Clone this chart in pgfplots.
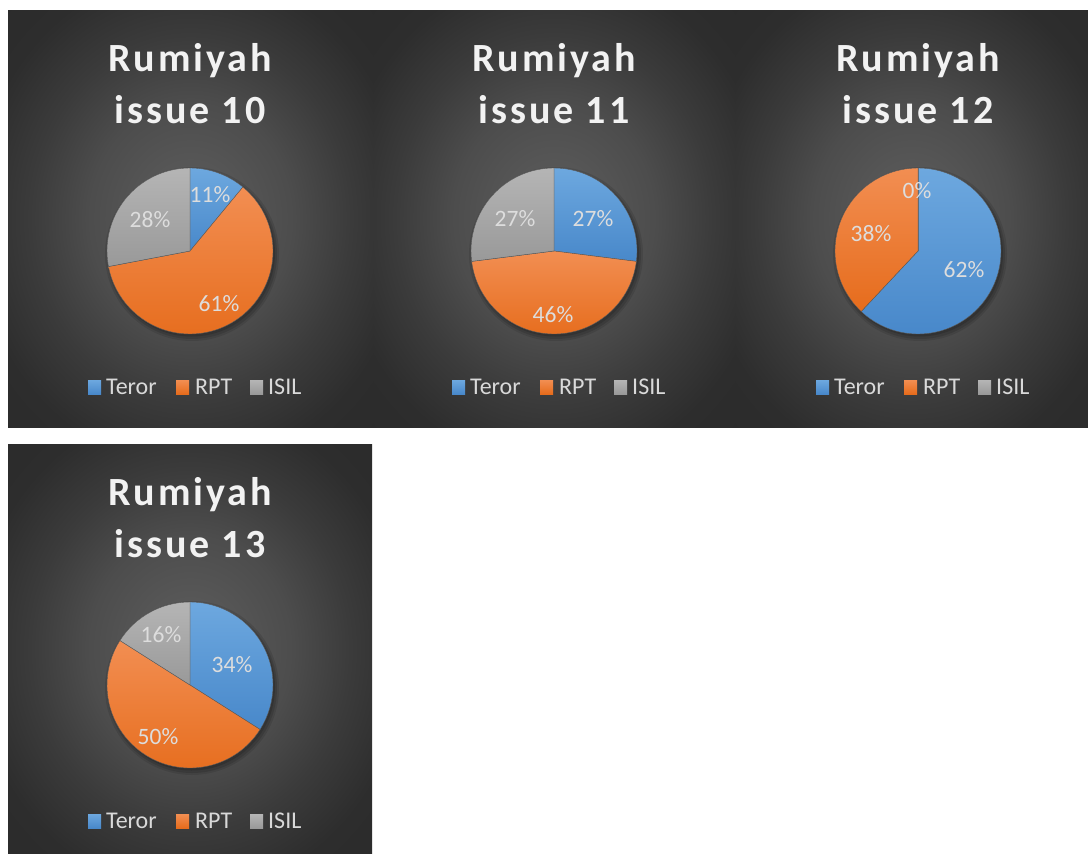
\documentclass[border=0pt]{standalone}
\usepackage{pgfplots}
\pgfplotsset{compat=1.18}
\usepackage{pgfplotstable}
\usepackage{fontspec}
\setmainfont{Carlito}
\newfontfamily\titlefont[LetterSpace=7.5]{Carlito}

\definecolor{bgin}{HTML}{595959}
\definecolor{bgout}{HTML}{272727}
\definecolor{blueT}{HTML}{6DA8DF}
\definecolor{blueB}{HTML}{4888CA}
\definecolor{oranT}{HTML}{F28E52}
\definecolor{oranB}{HTML}{E66C1C}
\definecolor{grayT}{HTML}{B5B5B5}
\definecolor{grayB}{HTML}{999999}
\definecolor{sepcol}{HTML}{5A5A5A}
\definecolor{titlecol}{HTML}{F2F2F2}
\definecolor{labcol}{HTML}{DDDDDD}
\definecolor{legcol}{HTML}{D9D9D9}

\pgfdeclareradialshading{panelshade}{\pgfpoint{0bp}{0bp}}{%
  color(0bp)=(bgin); color(6bp)=(bgin!96!bgout); color(14bp)=(bgin!75!bgout);
  color(22bp)=(bgin!40!bgout); color(30bp)=(bgin!12!bgout); color(50bp)=(bgout)}

% pie data: centre (px) and shares in percent
\pgfplotstableread{
cx cy t r i
190 251 11 61 28
554 251 27 46 27
918 251 62 38 0
190 685 34 50 16
}\piedata

% data labels
\pgfplotstableread{
x y v
210 195 11
219 304 61
150 220 28
593 219 27
553 315 46
515 219 27
964 270 62
871 234 38
917 191 0
232 665 34
158 737 50
161 635 16
}\labeldata

\newcommand\slice[6]{%
  \edef\temp{\noexpand\path[top color=#5, bottom color=#6, draw=sepcol, line width=0.4pt]
    (axis cs:#1,#2) -- ++(#3:83pt) arc[start angle=#3, end angle=#4, radius=83pt] -- cycle;}%
  \temp}
\newcommand\pieshadow[2]{%
  \edef\temp{\noexpand\fill[black, opacity=0.10] ([shift={(2pt,-3pt)}]axis cs:#1,#2) circle[radius=87pt];
   \noexpand\fill[black, opacity=0.12] ([shift={(2pt,-3pt)}]axis cs:#1,#2) circle[radius=85pt];
   \noexpand\fill[black, opacity=0.15] ([shift={(1.5pt,-2pt)}]axis cs:#1,#2) circle[radius=83.5pt];}%
  \temp}

\newcommand\panelbg[4]{%
  \path[shading=panelshade] (axis cs:#1,#2) rectangle (axis cs:#3,#4);}

\newcommand\ptitle[3]{% cx, baseline of first line, number
  \node[anchor=base, inner sep=0, text depth=0pt, text=titlecol, font=\titlefont\bfseries\fontsize{40}{48}\selectfont]
     at (axis cs:#1,#2) {Rumiyah};
  \node[anchor=base, inner sep=0, text height=27pt, text=titlecol, font=\titlefont\bfseries\fontsize{40}{48}\selectfont]
     at (axis cs:#1,#2+52) {issue #3};}

\newcommand\plegend[2]{% x offset, y offset (px)
  \begin{scope}[shift={(#1pt,-#2pt)}]
    \path[top color=blueT, bottom color=blueB] (axis cs:88,380) rectangle (axis cs:101,394);
    \path[top color=oranT, bottom color=oranB] (axis cs:176,380) rectangle (axis cs:189,394);
    \path[top color=grayT, bottom color=grayB] (axis cs:250,380) rectangle (axis cs:263,394);
    \node[anchor=base west, inner sep=0, text=legcol, font=\fontsize{24}{28}\selectfont] at (axis cs:106,394) {Teror};
    \node[anchor=base west, inner sep=0, text=legcol, font=\fontsize{24}{28}\selectfont] at (axis cs:195,394) {RPT};
    \node[anchor=base west, inner sep=0, text=legcol, font=\fontsize{24}{28}\selectfont] at (axis cs:268,394) {ISIL};
  \end{scope}}

\begin{document}
\begin{tikzpicture}
\begin{axis}[
  width=1088pt, height=854pt, scale only axis,
  xmin=0, xmax=1088, ymin=0, ymax=854, y dir=reverse,
  hide axis, clip=true]

\fill[white] (axis cs:0,0) rectangle (axis cs:1088,854);

\panelbg{8}{10}{373}{427}
\panelbg{373}{10}{735}{427}
\panelbg{735}{10}{1088}{427}
\panelbg{8}{444}{372}{854}

\ptitle{190}{71}{10}
\ptitle{554}{71}{11}
\ptitle{918}{71}{12}
\ptitle{190}{505}{13}

\pgfplotsinvokeforeach{0,...,3}{%
  \pgfplotstablegetelem{#1}{cx}\of\piedata \edef\cx{\pgfplotsretval}%
  \pgfplotstablegetelem{#1}{cy}\of\piedata \edef\cy{\pgfplotsretval}%
  \pgfplotstablegetelem{#1}{t}\of\piedata \edef\vt{\pgfplotsretval}%
  \pgfplotstablegetelem{#1}{r}\of\piedata \edef\vr{\pgfplotsretval}%
  \pgfplotstablegetelem{#1}{i}\of\piedata \edef\vi{\pgfplotsretval}%
  \pgfmathsetmacro\aA{90-3.6*\vt}%
  \pgfmathsetmacro\aB{\aA-3.6*\vr}%
  \pgfmathsetmacro\aC{\aB-3.6*\vi}%
  \pieshadow{\cx}{\cy}%
  \slice{\cx}{\cy}{90}{\aA}{blueT}{blueB}%
  \slice{\cx}{\cy}{\aA}{\aB}{oranT}{oranB}%
  \slice{\cx}{\cy}{\aB}{\aC}{grayT}{grayB}%
}

\addplot[draw=none, point meta=explicit symbolic,
  nodes near coords={\pgfplotspointmeta\%},
  nodes near coords style={anchor=center, inner sep=0, text=labcol, font=\fontsize{23.5}{28}\selectfont}]
  table[x=x, y=y, meta=v] {\labeldata};

\plegend{0}{0}
\plegend{364}{0}
\plegend{728}{0}
\plegend{0}{434}

\end{axis}
\end{tikzpicture}
\end{document}
